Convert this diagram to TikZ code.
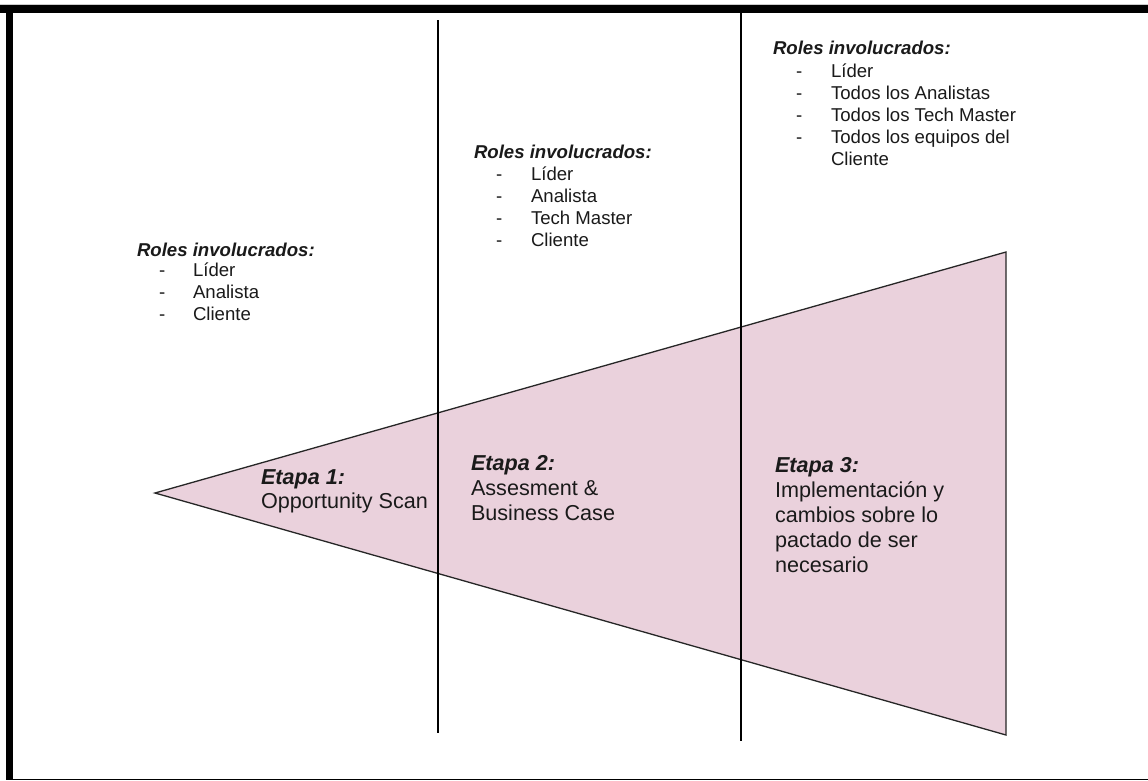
\documentclass[tikz,border=0pt]{standalone}
\usepackage{fontspec}
\setmainfont{Liberation Sans}
\definecolor{funnelfill}{HTML}{EAD1DC}
\definecolor{inkgray}{HTML}{1A1A1A}
\begin{document}
\begin{tikzpicture}[x=1pt,y=-1pt,
  txt/.style={anchor=base west,inner sep=0pt,outer sep=0pt,text=inkgray},
  roletitle/.style={txt,font=\fontsize{18.6}{22}\selectfont\bfseries\itshape},
  roleitem/.style={txt,font=\fontsize{18.6}{22}\selectfont},
  bullet/.style={txt,font=\fontsize{18.6}{22}\selectfont},
  stagetitle/.style={txt,font=\fontsize{21.6}{25}\selectfont\bfseries\itshape},
  stagetext/.style={txt,font=\fontsize{21.6}{25}\selectfont},
  divider/.style={draw=black,line width=1.2pt},
  frame/.style={fill=black,draw=none}]
\useasboundingbox (0,0) rectangle (1148,780);
\fill[white] (0,0) rectangle (1148,780);

% outer frame
\fill[black!20] (0,3.5) rectangle (1148,4.5);
\fill[frame] (0,4.5) rectangle (1148,12.7);
\fill[frame] (6,4.5) rectangle (13.3,780);
\fill[frame] (6,778.6) rectangle (1148,780);

% funnel
\coordinate (apex) at (155,493);
\coordinate (tr) at (1006,252);
\coordinate (br) at (1006,735);
\draw[fill=funnelfill,draw=black!85,line width=1.3pt,line join=miter] (apex) -- (tr) -- (br) -- cycle;

% stage dividers
\coordinate (d1t) at (438,20);
\coordinate (d1b) at (438,733);
\coordinate (d2t) at (741,12);
\coordinate (d2b) at (741,741);
\draw[divider] (d1t) -- (d1b);
\draw[divider] (d2t) -- (d2b);

% roles, stage 1
\node[roletitle] (r1t) at (137,256) {Roles involucrados:};
\node[bullet] (r1d1) at (159,276) {-};
\node[roleitem] (r1a) at (193,276) {Líder};
\node[bullet] (r1d2) at (159,298) {-};
\node[roleitem] (r1b) at (193,298) {Analista};
\node[bullet] (r1d3) at (159,320) {-};
\node[roleitem] (r1c) at (193,320) {Cliente};

% roles, stage 2
\node[roletitle] (r2t) at (474,158) {Roles involucrados:};
\node[bullet] (r2d1) at (496,180) {-};
\node[roleitem] (r2a) at (531,180) {Líder};
\node[bullet] (r2d2) at (496,202) {-};
\node[roleitem] (r2b) at (531,202) {Analista};
\node[bullet] (r2d3) at (496,224) {-};
\node[roleitem] (r2c) at (531,224) {Tech Master};
\node[bullet] (r2d4) at (496,246) {-};
\node[roleitem] (r2d) at (531,246) {Cliente};

% roles, stage 3
\node[roletitle] (r3t) at (773,54) {Roles involucrados:};
\node[bullet] (r3d1) at (796,77) {-};
\node[roleitem] (r3a) at (831,77) {Líder};
\node[bullet] (r3d2) at (796,99) {-};
\node[roleitem] (r3b) at (831,99) {Todos los Analistas};
\node[bullet] (r3d3) at (796,121) {-};
\node[roleitem] (r3c) at (831,121) {Todos los Tech Master};
\node[bullet] (r3d4) at (796,143) {-};
\node[roleitem] (r3d) at (831,143) {Todos los equipos del};
\node[roleitem] (r3e) at (831,165) {Cliente};

% stage labels
\node[stagetitle] (s1t) at (261,484) {Etapa 1:};
\node[stagetext] (s1a) at (261,508) {Opportunity Scan};

\node[stagetitle] (s2t) at (471,470) {Etapa 2:};
\node[stagetext] (s2a) at (471,495) {Assesment \&};
\node[stagetext] (s2b) at (471,520) {Business Case};

\node[stagetitle] (s3t) at (775,472) {Etapa 3:};
\node[stagetext] (s3a) at (775,497) {Implementación y};
\node[stagetext] (s3b) at (775,522) {cambios sobre lo};
\node[stagetext] (s3c) at (775,547) {pactado de ser};
\node[stagetext] (s3d) at (775,572) {necesario};
\end{tikzpicture}
\end{document}
